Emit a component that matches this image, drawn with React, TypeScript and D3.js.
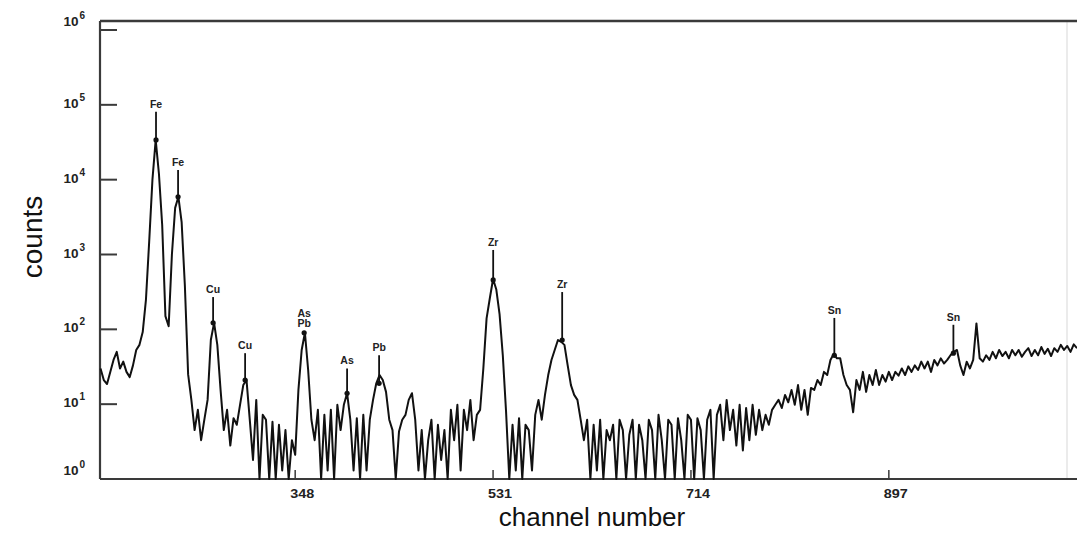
import * as d3 from 'd3'

// ================================================================== //
// EDXRF spectrum, log counts vs channel number
// values, one count every 3 channels

const startChannel = 168
const channelStep = 3

const counts = [
  30, 21, 18.6, 27, 39, 50, 30, 37, 27, 23,
  33, 53, 62, 92, 250, 1500, 10000, 34000, 12000, 2500,
  150, 110, 1000, 4200, 5900, 2700, 380, 25, 11.4, 4.5,
  8.4, 3.3, 6.2, 11.4, 72, 122, 62, 15.5, 4.5, 8.4,
  2.8, 6.5, 5.3, 9.8, 18, 21, 6.2, 1.8, 11.4, 1,
  7.2, 6.2, 1, 5.8, 1, 5.3, 1.3, 4.5, 1, 3.3,
  2.1, 15.5, 53, 90, 28.6, 6.2, 3.3, 8.4, 1, 7.2,
  1.3, 8.4, 1, 9.8, 4.5, 9.8, 14, 6.2, 1.3, 6.5,
  1, 7.2, 1.3, 6.2, 11.4, 19, 24.5, 21, 14.6, 6.2,
  4.5, 1, 4.3, 6.2, 7.2, 11.4, 14, 6.2, 1.3, 4.5,
  1, 3.3, 6.2, 1, 5.3, 1.8, 4.5, 1, 8.4, 3.3,
  9.8, 1.3, 8.4, 4.5, 11.4, 3.3, 7.2, 8.4, 30, 140,
  260, 470, 340, 160, 45, 8, 1, 5.3, 1.3, 6.5,
  1, 5.3, 4.5, 1.3, 7.2, 11.4, 6.2, 13.3, 24.5, 39,
  53, 72, 68, 62, 33, 18, 13.3, 11.4, 6.2, 3.3,
  6.2, 1, 5.3, 1.3, 6.2, 1, 4.5, 3.3, 5.3, 1,
  6.2, 4.5, 1, 3.9, 6.2, 1, 5.3, 3.3, 1, 6.2,
  4.5, 1, 7.2, 3.3, 1, 6.2, 5.3, 1, 6.5, 3.3,
  1, 7.2, 6.2, 1, 6.5, 4.5, 1, 6.2, 8.4, 1,
  7.2, 9.8, 3.3, 11.4, 4.5, 8.4, 2.8, 9.8, 2.4, 8.9,
  3.3, 9.8, 3.9, 8.4, 4.5, 7.2, 5.3, 8.4, 9.8, 11.4,
  8.9, 13.3, 10.6, 15.5, 9.8, 18, 8.4, 15.5, 7.2, 16.5,
  15.5, 21, 18, 27, 24.5, 39, 47, 41, 41, 24.5,
  18, 15.5, 7.8, 21, 15.5, 27, 14.6, 24.5, 18, 28.6,
  18, 24.5, 20, 27, 21, 27, 24, 30, 24.5, 32,
  27, 33, 28.6, 37, 30, 37, 27, 39, 33, 41,
  35, 39, 45, 50, 53, 33, 24.5, 37, 30, 39,
  120, 41, 37, 45, 39, 50, 41, 53, 44, 50,
  41, 53, 45, 53, 43, 50, 56, 44, 53, 45,
  58, 47, 55, 44, 56, 50, 62, 53, 60, 50,
  63, 56,
]

// peak annotations
const peakLabels = ['Fe', 'Fe', 'Cu', 'Cu', 'As/Pb', 'As', 'Pb', 'Zr', 'Zr', 'Sn', 'Sn']
const peakChannels = [219.3, 239.7, 272.1, 301.7, 356.3, 396, 425.6, 531.1, 594.9, 846.6, 956.7]
const peakDotCounts = [34000, 5900, 122, 21, 90, 14, 19, 457, 72, 45, 48]
const peakTopCounts = [81000, 13500, 270, 48, 95, 30, 45, 1150, 315, 142, 115]

const xTicks = [348, 531, 714, 897]
const yExponents = [0, 1, 2, 3, 4, 5, 6]

const W = 1077
const H = 533
const margin = { top: 21, right: 0, bottom: 54, left: 100 }

export default function App() {
  const x = d3.scaleLinear().domain([167.5, 1071]).range([margin.left, W])
  const y = d3.scaleLog().domain([1, 1e6]).range([H - margin.bottom, 30])

  const data = counts.map((c, i) => ({ ch: startChannel + i * channelStep, c }))
  const line = d3.line<{ ch: number; c: number }>()
    .x(d => x(d.ch))
    .y(d => y(d.c))

  const bottom = H - margin.bottom
  const axisColor = '#3a3a3a'

  return (
    <svg width={W} height={H} style={{ position: 'absolute', left: 0, top: 0, background: '#fff' }}
      fontFamily="'Liberation Sans', Arial, sans-serif">
      {/* frame */}
      <line x1={1067} x2={1067} y1={margin.top} y2={bottom} stroke="#e4e4e4" strokeWidth={1.5} />
      <line x1={margin.left} x2={W} y1={margin.top} y2={margin.top} stroke={axisColor} strokeWidth={2.5} />
      <line x1={margin.left} x2={W} y1={bottom} y2={bottom} stroke={axisColor} strokeWidth={2.2} />
      <line x1={margin.left} x2={margin.left} y1={margin.top} y2={bottom} stroke={axisColor} strokeWidth={2.2} />

      {/* y ticks */}
      {yExponents.map(e => (
        <g key={e}>
          {e > 0 ? (
            <line x1={margin.left} x2={margin.left + 17} y1={y(10 ** e)} y2={y(10 ** e)}
              stroke={axisColor} strokeWidth={2} />
          ) : null}
          <text x={85} y={y(10 ** e) + (e === 0 || e === 6 ? -4 : 3)} textAnchor="end"
            fontSize={13.5} fontWeight="bold" fill="#222">
            10
            <tspan dx={1} dy={-7} fontSize={10}>{e}</tspan>
          </text>
        </g>
      ))}

      {/* x ticks */}
      {xTicks.map(t => (
        <g key={t}>
          <line x1={x(t)} x2={x(t)} y1={bottom} y2={bottom - 9} stroke={axisColor} strokeWidth={1.5} />
          <text x={x(t) + 7} y={bottom + 19} textAnchor="middle" fontSize={13}
            fontWeight="bold" fill="#222" textLength={24} lengthAdjust="spacingAndGlyphs">{t}</text>
        </g>
      ))}

      {/* spectrum */}
      <path d={line(data) ?? ''} fill="none" stroke="#111" strokeWidth={2} strokeLinejoin="round" />

      {/* peak markers */}
      {peakLabels.map((lab, i) => {
        const px = x(peakChannels[i])
        const top = y(peakTopCounts[i])
        const dot = y(peakDotCounts[i])
        const parts = lab.split('/')
        return (
          <g key={i}>
            <line x1={px} x2={px} y1={top} y2={dot} stroke="#111" strokeWidth={1.8} />
            <circle cx={px} cy={dot} r={2.6} fill="#111" />
            {parts.map((p, j) => (
              <text key={j} x={px} y={top - 4 - (parts.length - 1 - j) * 10} textAnchor="middle"
                fontSize={10.5} fontWeight="bold" fill="#222">{p}</text>
            ))}
          </g>
        )
      })}

      {/* axis titles */}
      <text transform={`translate(42,${237}) rotate(-90)`} textAnchor="middle" fontSize={28} fill="#111">counts</text>
      <text x={592} y={526} textAnchor="middle" fontSize={26} fill="#111">channel number</text>
    </svg>
  )
}
